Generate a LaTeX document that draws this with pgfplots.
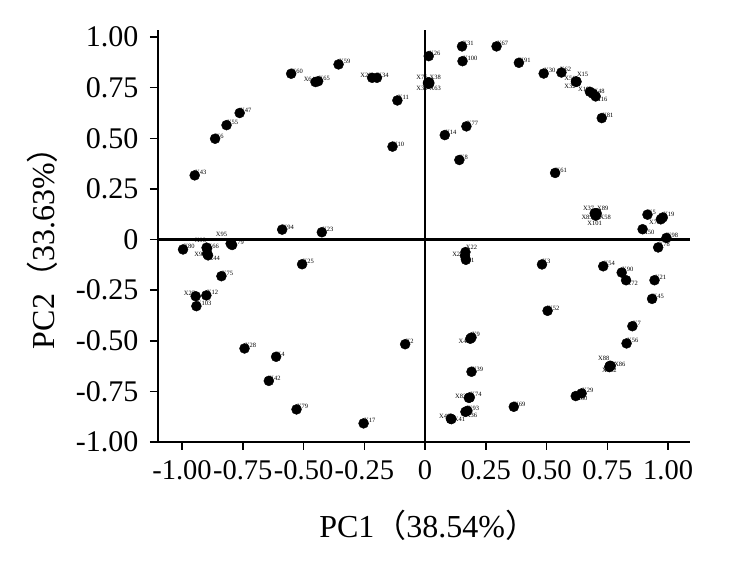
\documentclass[border=0pt]{standalone}
\usepackage{fontspec}
\setmainfont{Liberation Serif}
\newfontfamily\cjk{Noto Sans CJK SC}
\usepackage{pgfplots}
\pgfplotsset{compat=1.18}
\usetikzlibrary{calc}

\begin{document}
\begin{tikzpicture}
\begin{axis}[
    name=ax,
    scale only axis,
    width=532pt, height=412pt,
    xmin=-1.099, xmax=1.09,
    ymin=-1, ymax=1.035,
    axis x line*=bottom,
    axis y line*=left,
    axis line style={line width=1.8pt, black},
    tick align=outside,
    major tick length=8pt,
    tick style={line width=1.6pt, black},
    xtick={-1,-0.75,-0.5,-0.25,0,0.25,0.5,0.75,1},
    xticklabels={-1.00,-0.75,-0.50,-0.25,0,0.25,0.50,0.75,1.00},
    ytick={-1,-0.75,-0.5,-0.25,0,0.25,0.5,0.75,1},
    yticklabels={-1.00,-0.75,-0.50,-0.25,0,0.25,0.50,0.75,1.00},
    xticklabel style={font=\fontsize{28.5}{32}\selectfont, yshift=-7pt},
    yticklabel style={font=\fontsize{30}{34}\selectfont, xshift=-8pt},
    xlabel={PC1{\cjk （}38.54\%{\cjk ）}},
    ylabel={PC2{\cjk （}33.63\%{\cjk ）}},
    label style={font=\fontsize{32}{36}\selectfont},
    xlabel style={at={(axis description cs:0.508,-0.233)}, anchor=base},
    ylabel style={at={(axis description cs:-0.194,0.49)}, anchor=base, rotate=0},
    clip=false,
]
\addplot[black, line width=2.2pt] coordinates {(-1.099,0) (1.09,0)};
\addplot[black, line width=2.2pt] coordinates {(0,-1) (0,1.035)};
% loadings: x, y, label, label anchor, label shift (pt)
\addplot[only marks, mark=*, mark size=5pt, black,
    point meta=explicit symbolic,
    nodes near coords,
    visualization depends on={value \thisrow{pos}\as\lpos},
    visualization depends on={\thisrow{dx}\as\ldx},
    visualization depends on={\thisrow{dy}\as\ldy},
    every node near coord/.append style={anchor=\lpos, xshift=\ldx pt, yshift=\ldy pt,
        font=\fontsize{6.5}{7}\selectfont, inner sep=0.3pt, black},
] table[col sep=comma, x=x, y=y, meta=lab] {
x,y,lab,pos,dx,dy
-0.551,0.819,X60,south west,0,0
-0.451,0.778,X64,south east,0,0
-0.440,0.782,X65,south west,0,0
-0.356,0.865,X59,south west,0,0
-0.218,0.799,X20,south east,0,0
-0.198,0.799,X34,south west,0,0
-0.114,0.687,X11,south west,0,0
-0.134,0.459,X10,south west,0,0
-0.763,0.625,X47,south west,0,0
-0.817,0.565,X55,south west,0,0
-0.864,0.498,X6,south west,0,0
-0.948,0.317,X43,south west,0,0
0.015,0.906,X26,south west,0,0
0.012,0.776,X76,south east,0,2
0.017,0.776,X38,south west,0,2
0.012,0.770,X35,north east,0,-2
0.017,0.770,X63,north west,0,-2
0.152,0.954,X31,south west,0,0
0.154,0.881,X100,south west,0,0
0.170,0.559,X77,south west,0,0
0.081,0.516,X14,south west,0,0
0.141,0.393,X8,south west,0,0
0.294,0.954,X67,south west,0,0
0.386,0.873,X91,south west,0,0
0.488,0.820,X30,south west,0,0
0.561,0.825,X62,south west,-2,0
0.623,0.780,X15,south west,0,5
0.621,0.781,X51,south east,0,0
0.621,0.779,X32,north east,0,-2
0.678,0.730,X18,south east,0,0
0.691,0.720,X48,south west,0,0
0.702,0.707,X16,north west,0,0
0.727,0.600,X81,south west,0,0
0.535,0.329,X61,south west,0,0
-0.996,-0.049,X80,south west,0,0
-0.899,-0.040,X93,south east,0,5
-0.800,-0.020,X95,south east,-3,7
-0.897,-0.045,X66,south west,0,0
-0.794,-0.027,X79,south west,0,0
-0.897,-0.070,X96,east,-1,-1
-0.893,-0.078,X44,north west,0,0
-0.838,-0.181,X75,south west,0,0
-0.944,-0.280,X27,south east,0,0
-0.900,-0.276,X12,south west,0,0
-0.941,-0.329,X103,south west,0,0
-0.588,0.049,X94,south west,0,0
-0.506,-0.122,X25,south west,0,0
-0.425,0.036,X23,south west,0,0
0.166,-0.062,X22,south west,0,2
0.164,-0.080,X24,east,-1,1
0.168,-0.100,X1,west,0,-1
0.698,0.130,X37,south east,0,2
0.706,0.130,X89,south west,0,2
0.700,0.125,X85,east,-2,-3
0.704,0.122,X58,north west,3,0
0.702,0.118,X101,north,-1,-5
0.915,0.123,X5,south west,0,0
0.978,0.109,X19,south west,0,0
0.970,0.100,X70,north east,0,0
0.895,0.051,X50,north west,0,0
0.993,0.008,X98,south west,0,0
0.959,-0.039,X78,south west,0,0
0.481,-0.123,X3,south west,0,0
0.733,-0.132,X54,south west,0,0
0.809,-0.163,X90,south west,0,0
0.827,-0.201,X72,north west,0,0
0.944,-0.201,X21,south west,0,0
0.934,-0.293,X45,south west,0,0
0.504,-0.352,X52,south west,0,0
-0.743,-0.538,X28,south west,0,0
-0.613,-0.579,X4,south west,0,0
-0.643,-0.698,X42,south west,0,0
-0.529,-0.839,X79,south west,0,0
-0.082,-0.517,X2,south west,0,0
-0.253,-0.908,X17,south west,0,0
0.191,-0.484,X9,south west,0,0
0.186,-0.490,X40,north east,0,0
0.191,-0.653,X39,south west,0,0
0.184,-0.780,X74,south west,0,0
0.180,-0.782,X83,east,-2,1
0.174,-0.846,X93,south west,0,0
0.166,-0.851,X36,north west,0,-1
0.106,-0.885,X46,south east,0,0
0.108,-0.887,X41,west,2,0
0.760,-0.624,X88,south east,0,5
0.764,-0.624,X86,west,3,2
0.758,-0.630,X102,north,0,-1
0.853,-0.428,X7,south west,0,0
0.829,-0.513,X56,south west,0,0
0.644,-0.760,X29,south west,0,0
0.620,-0.773,X60,north west,0,0
0.365,-0.826,X69,south west,0,0
};
\end{axis}
\path ($(ax.south west)+(-158pt,-122pt)$) rectangle ($(ax.north east)+(63pt,30pt)$);
\end{tikzpicture}
\end{document}
